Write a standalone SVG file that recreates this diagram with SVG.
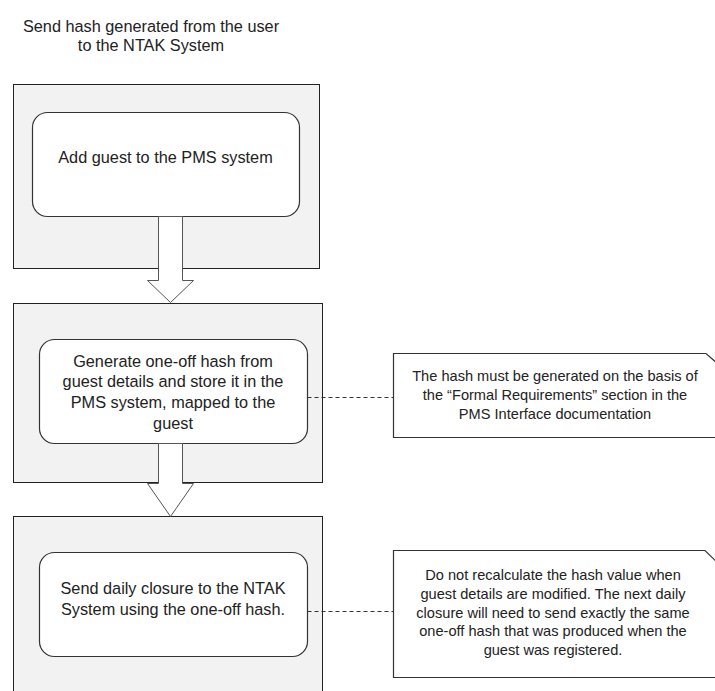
<svg xmlns="http://www.w3.org/2000/svg" width="715" height="691" viewBox="0 0 715 691">
<style>
  text { font-family: "Liberation Sans", Arial, sans-serif; fill: #222; text-anchor: middle; }
  .t16 { font-size: 16.3px; }
  .t14 { font-size: 14.6px; }
  .outer { fill: #f2f2f2; stroke: #222; stroke-width: 1; }
  .step { fill: #ffffff; stroke: #333; stroke-width: 1.2; }
  .note { fill: #ffffff; stroke: #333; stroke-width: 1.2; }
  .barrow { fill: #ffffff; stroke: #555; stroke-width: 1; }
  .dash { stroke: #333; stroke-width: 1; stroke-dasharray: 4 3; fill: none; }
</style>
<rect x="0" y="0" width="715" height="691" fill="#ffffff"/>
<g id="title">
  <text class="t16" x="151" y="32">Send hash generated from the user</text>
  <text class="t16" x="151" y="51">to the NTAK System</text>
</g>
<g id="lane1"><rect class="outer" x="13.5" y="84.5" width="306" height="184"/></g>
<g id="lane2"><rect class="outer" x="13.5" y="303.5" width="309" height="179"/></g>
<g id="lane3"><rect class="outer" x="13.5" y="516.5" width="309" height="190"/></g>
<g id="step1">
  <rect class="step" x="32.5" y="112.5" width="267" height="104" rx="15"/>
  <text class="t16" x="165.5" y="163">Add guest to the PMS system</text>
</g>
<g id="step2">
  <rect class="step" x="39.5" y="339.5" width="268" height="104" rx="15"/>
  <text class="t16" x="173" y="366.7">Generate one-off hash from</text>
  <text class="t16" x="173" y="387.4">guest details and store it in the</text>
  <text class="t16" x="173" y="408.1">PMS system, mapped to the</text>
  <text class="t16" x="173" y="428.8">guest</text>
</g>
<g id="step3">
  <rect class="step" x="39.5" y="552.5" width="268" height="104" rx="15"/>
  <text class="t16" x="173" y="594.3">Send daily closure to the NTAK</text>
  <text class="t16" x="173" y="615">System using the one-off hash.</text>
</g>
<g id="note1">
  <path class="note" d="M393.5,353.5 H706 L718,364 V437.5 H393.5 Z"/>
  <text class="t14" x="555" y="381">The hash must be generated on the basis of</text>
  <text class="t14" x="555" y="400.2">the “Formal Requirements” section in the</text>
  <text class="t14" x="555" y="419.4">PMS Interface documentation</text>
</g>
<g id="note2">
  <path class="note" d="M393.5,550.5 H705 L725,570 V677.5 H393.5 Z"/>
  <text class="t14" x="553" y="580">Do not recalculate the hash value when</text>
  <text class="t14" x="553" y="598.8">guest details are modified. The next daily</text>
  <text class="t14" x="553" y="617.6">closure will need to send exactly the same</text>
  <text class="t14" x="553" y="636.4">one-off hash that was produced when the</text>
  <text class="t14" x="553" y="655.2">guest was registered.</text>
</g>
<g id="connectors">
  <path class="barrow" d="M158.5,216.5 V280.5 H147.5 L170.5,302.5 L193.5,280.5 H182.5 V216.5 Z"/>
  <path class="barrow" d="M158.5,443.5 V483.5 H147.5 L170.5,516.5 L193.5,483.5 H182.5 V443.5 Z"/>
  <line class="dash" x1="307.5" y1="397.5" x2="393" y2="397.5"/>
  <line class="dash" x1="307.5" y1="611.5" x2="393" y2="611.5"/>
</g>
</svg>
